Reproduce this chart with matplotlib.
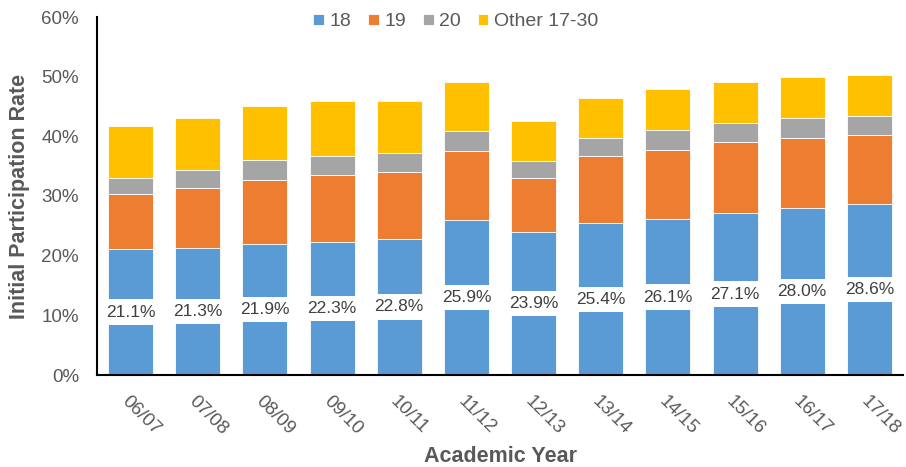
import numpy as np
import matplotlib
matplotlib.use('Agg')
import matplotlib.pyplot as plt
from matplotlib.ticker import PercentFormatter

# Valores (% de participacion)
anios = ['06/07', '07/08', '08/09', '09/10', '10/11', '11/12',
         '12/13', '13/14', '14/15', '15/16', '16/17', '17/18']
edad_18 = [21.1, 21.3, 21.9, 22.3, 22.8, 25.9, 23.9, 25.4, 26.1, 27.1, 28.0, 28.6]
edad_19 = [9.2, 10.1, 10.8, 11.15, 11.15, 11.7, 9.15, 11.3, 11.6, 11.9, 11.8, 11.65]
edad_20 = [2.75, 2.9, 3.25, 3.25, 3.25, 3.3, 2.75, 3.1, 3.4, 3.2, 3.3, 3.15]
otros = [8.65, 8.75, 9.1, 9.25, 8.75, 8.2, 6.8, 6.7, 6.8, 6.9, 6.8, 6.8]

series = [('18', edad_18, '#5B9BD5'),
          ('19', edad_19, '#ED7D31'),
          ('20', edad_20, '#A5A5A5'),
          ('Other 17-30', otros, '#FFC000')]

gris = '#595959'
plt.rcParams['font.family'] = ['Liberation Sans', 'DejaVu Sans']

fig = plt.figure(figsize=(9.06, 4.67), dpi=100)
ax = fig.add_axes([97/906, 1-375/467, (903-97)/906, (375-17)/467])

x = np.arange(len(anios))
base = np.zeros(len(anios))
for nombre, vals, color in series:
    ax.bar(x, vals, width=0.67, bottom=base, color=color, label=nombre,
           edgecolor='white', linewidth=0.6, zorder=2)
    base = base + np.array(vals)

# Etiquetas del segmento de 18 anios, centradas con fondo blanco
for i, v in enumerate(edad_18):
    ax.text(i, v/2, '%.1f%%' % v, ha='center', va='center', fontsize=12.5,
            color='#404040', zorder=3,
            bbox=dict(boxstyle='square,pad=0.3', facecolor='white', edgecolor='none'))

ax.set_xlim(-0.5, len(anios)-0.5)
ax.set_ylim(0, 60)
ax.set_yticks(np.arange(0, 61, 10))
ax.yaxis.set_major_formatter(PercentFormatter(decimals=0))
ax.set_xticks(x)
ax.set_xticklabels(anios, rotation=-45, ha='left', va='top', rotation_mode='anchor')
ax.tick_params(axis='x', length=0, pad=13, labelsize=13.5, labelcolor=gris)
ax.tick_params(axis='y', length=0, pad=13, labelsize=13.5, labelcolor=gris)

for lado in ['top', 'right']:
    ax.spines[lado].set_visible(False)
ax.spines['left'].set_linewidth(1.5)
ax.spines['bottom'].set_linewidth(1.5)

ax.set_ylabel('Initial Participation Rate', fontsize=15.5, fontweight='bold', color=gris)
ax.yaxis.set_label_coords(-67/806, 0.5)
ax.set_xlabel('Academic Year', fontsize=15.5, fontweight='bold', color=gris)
ax.xaxis.set_label_coords((500-97)/806, -(446-375)/358)

fig.legend(loc='center', bbox_to_anchor=(456/906, 1-22/467), ncol=4, frameon=False,
           fontsize=14, labelcolor=gris, handlelength=0.55, handleheight=0.55,
           handletextpad=0.3, columnspacing=0.85)

plt.savefig('out.png', dpi=100)
